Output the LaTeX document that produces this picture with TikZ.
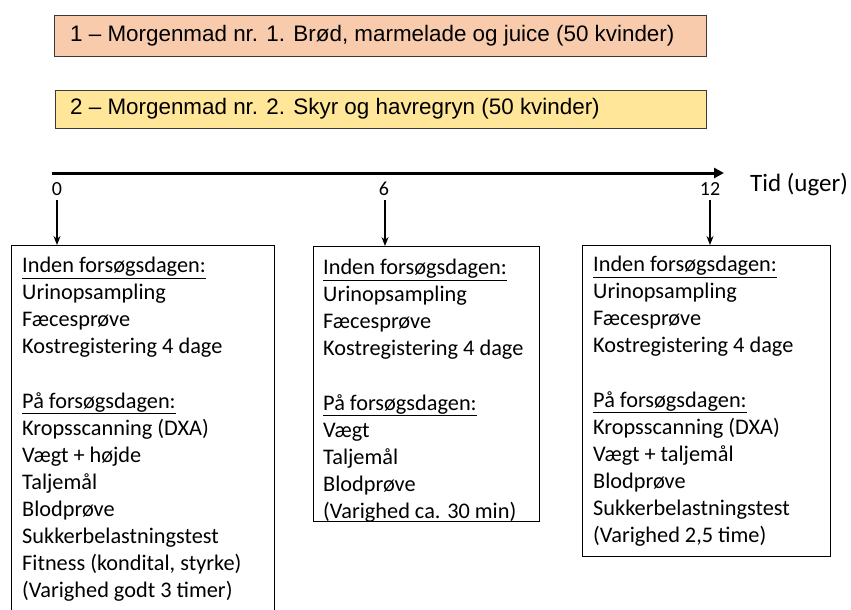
\documentclass[tikz,border=0pt]{standalone}
\usepackage{fontspec}
\setmainfont{Carlito}
\newfontfamily\arialf{Liberation Sans}
\usetikzlibrary{arrows.meta}
\definecolor{salmon}{HTML}{F8CBAD}
\definecolor{goldl}{HTML}{FFE699}
\definecolor{edge}{HTML}{3A3A3A}
\begin{document}
\begin{tikzpicture}[x=1pt,y=-1pt,
  groupbox/.style={draw=edge,line width=1.2pt,inner sep=0pt,anchor=north west},
  grouptext/.style={anchor=west,inner sep=0pt,font=\arialf\fontsize{22.4}{26}\selectfont},
  infobox/.style={draw=black,line width=1pt,inner sep=0pt,anchor=north west},
  infotext/.style={anchor=north west,inner sep=0pt,align=left,font=\fontsize{22.3}{27.1}\selectfont},
  tick/.style={font=\fontsize{20}{22}\selectfont,inner sep=0pt},
  down/.style={-{Stealth[length=9pt,width=7pt]},line width=1.3pt}]
\useasboundingbox (0,0) rectangle (851,610);
\clip (0,0) rectangle (851,610);
% group boxes
\node[groupbox,fill=salmon,minimum width=652pt,minimum height=41pt] (g1) at (54,15) {};
\node[grouptext] (g1t) at (70,36) {1 – Morgenmad nr. 1. Brød, marmelade og juice (50 kvinder)};
\node[groupbox,fill=goldl,minimum width=651pt,minimum height=38pt] (g2) at (55,90) {};
\node[grouptext] (g2t) at (70,109) {2 – Morgenmad nr. 2. Skyr og havregryn (50 kvinder)};
% timeline
\coordinate (t0) at (52,173);
\coordinate (t1) at (724,173);
\draw[line width=3pt,-{Triangle[length=10pt,width=10pt]}] (t0) -- (t1);
\node[anchor=west,inner sep=0pt,font=\fontsize{25}{28}\selectfont] (tid) at (750,185) {Tid (uger)};
\node[tick] (n0) at (57,189) {0};
\node[tick] (n6) at (384,189) {6};
\node[tick] (n12) at (710,189) {12};
% boxes
\node[infobox,minimum width=263pt,minimum height=380pt] (A) at (11,245) {};
\node[infobox,minimum width=226pt,minimum height=275pt] (B) at (313,246) {};
\node[infobox,minimum width=248pt,minimum height=311pt] (C) at (582,245) {};
% arrows
\coordinate (a0) at (57,200);
\coordinate (a6) at (385,200);
\coordinate (a12) at (710,200);
\draw[down] (a0) -- (a0 |- A.north);
\draw[down] (a6) -- (a6 |- B.north);
\draw[down] (a12) -- (a12 |- C.north);
% texts
\node[infotext] (At) at (22,257) {\underline{Inden forsøgsdagen:}\\Urinopsampling\\Fæcesprøve\\Kostregistering 4 dage\\[27.1pt]\underline{På forsøgsdagen:}\\Kropsscanning (DXA)\\Vægt + højde\\Taljemål\\Blodprøve\\Sukkerbelastningstest\\Fitness (kondital, styrke)\\(Varighed godt 3 timer)};
\node[infotext] (Bt) at (323,259) {\underline{Inden forsøgsdagen:}\\Urinopsampling\\Fæcesprøve\\Kostregistering 4 dage\\[27.1pt]\underline{På forsøgsdagen:}\\Vægt\\Taljemål\\Blodprøve\\(Varighed ca. 30 min)};
\node[infotext] (Ct) at (593,256) {\underline{Inden forsøgsdagen:}\\Urinopsampling\\Fæcesprøve\\Kostregistering 4 dage\\[27.1pt]\underline{På forsøgsdagen:}\\Kropsscanning (DXA)\\Vægt + taljemål\\Blodprøve\\Sukkerbelastningstest\\(Varighed 2,5 time)};
\end{tikzpicture}
\end{document}
